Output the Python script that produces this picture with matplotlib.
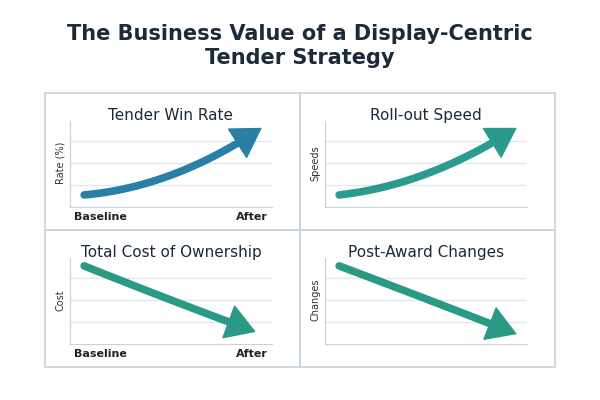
import numpy as np
import matplotlib.pyplot as plt
from matplotlib.patches import Rectangle

titles = ["Tender Win Rate", "Roll-out Speed", "Total Cost of Ownership", "Post-Award Changes"]
ylabels = ["Rate (%)", "Speeds", "Cost", "Changes"]
show_xticks = [True, False, True, False]
xlabels = ["Baseline", "After"]
# arrow paths: start, middle, end (x in 0..1, y in 0..4)
paths = [
    [(0.07, 0.55), (0.5, 1.45), (0.95, 3.6)],
    [(0.07, 0.55), (0.5, 1.5), (0.95, 3.6)],
    [(0.07, 3.55), (0.5, 2.0), (0.92, 0.55)],
    [(0.07, 3.55), (0.5, 2.05), (0.95, 0.45)],
]
colors = ["#2a7fa6", "#2a9b8c", "#2a9a86", "#2a9a86"]

fig = plt.figure(figsize=(6, 4), dpi=100)
fig.text(0.5, 0.885, "The Business Value of a Display-Centric\nTender Strategy", ha="center",
         va="center", fontsize=15, fontweight="bold", color="#1d2a3a", linespacing=1.3)

panels = [(45, 93), (300, 93), (45, 230), (300, 230)]
for i, (px, py) in enumerate(panels):
    fig.patches.append(Rectangle((px / 600, 1 - (py + 137) / 400), 255 / 600, 137 / 400,
                                 transform=fig.transFigure, fill=False, ec="#c8d3dc", lw=1.2))
    ax = fig.add_axes([(px + 25) / 600, 1 - (py + 114) / 400, 202 / 600, 88 / 400])
    ax.set_xlim(0, 1)
    ax.set_ylim(0, 4)
    for g in [1, 2, 3]:
        ax.axhline(g, color="#dfe7ee", lw=1)
    for s in ["top", "right"]:
        ax.spines[s].set_visible(False)
    ax.spines["left"].set_color("#c8d0d8")
    ax.spines["bottom"].set_color("#c8d0d8")
    ax.spines["left"].set_bounds(0, 3.9)
    ax.set_yticks([])
    if show_xticks[i]:
        ax.set_xticks([0.15, 0.9], xlabels)
        ax.tick_params(axis="x", length=0, labelsize=8, colors="#222")
        for t in ax.get_xticklabels():
            t.set_fontweight("bold")
    else:
        ax.set_xticks([])
    ax.set_ylabel(ylabels[i], fontsize=7, color="#333", labelpad=3)
    ax.set_title(titles[i], fontsize=11, fontweight="medium", color="#1d2a3a", pad=4, y=0.93)
    (x0, y0), (xm, ym), (x1, y1) = paths[i]
    c = np.polyfit([x0, xm, x1], [y0, ym, y1], 2)
    xs = np.linspace(x0, x1 - 0.06, 60)
    ax.plot(xs, np.polyval(c, xs), color=colors[i], lw=5.5, solid_capstyle="round")
    ax.annotate("", xy=(x1, y1), xytext=(xs[-4], np.polyval(c, xs[-4])),
                arrowprops=dict(arrowstyle="-|>,head_length=0.9,head_width=0.55",
                                mutation_scale=22, color=colors[i], lw=1,
                                shrinkA=0, shrinkB=0))

fig.savefig("out.png", dpi=100)
